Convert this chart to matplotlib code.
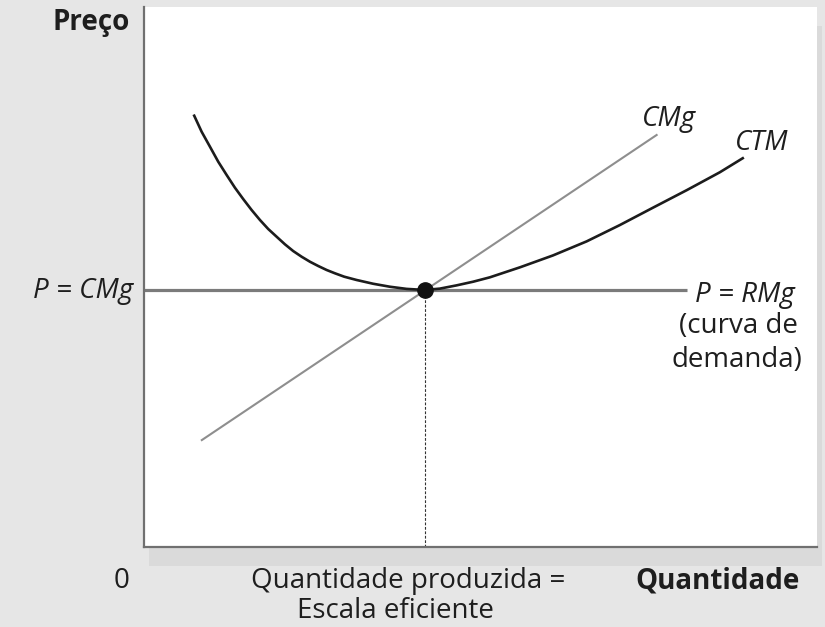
import matplotlib
matplotlib.use('Agg')
import matplotlib.pyplot as plt
from matplotlib.patches import Rectangle

plt.rcParams['font.family'] = ['Open Sans', 'DejaVu Sans']

# curva de custo total medio (CTM)
ctm_q = [7.47, 8.57, 9.81, 11.04, 12.29, 13.52, 14.75, 16.0, 17.24, 18.47, 19.72, 20.95,
         22.18, 23.43, 24.67, 25.9, 27.15, 28.38, 29.76, 31.6, 34.07, 36.55, 39.03, 41.75,
         43.98, 46.46, 48.93, 51.41, 55.9, 60.8, 65.8, 70.7, 75.6, 80.7, 85.6, 89.0]
ctm_p = [79.87, 76.91, 74.13, 71.35, 68.89, 66.54, 64.44, 62.41, 60.56, 58.89, 57.46, 56.06,
         54.81, 53.76, 52.83, 52.04, 51.30, 50.69, 50.06, 49.45, 48.75, 48.2, 47.8, 47.6,
         47.85, 48.45, 49.13, 49.94, 51.8, 54.0, 56.6, 59.6, 62.8, 66.1, 69.4, 72.0]

# custo marginal (reta)
cmg_q = [8.6, 76.2]
cmg_p = [19.8, 76.3]

# preco = receita marginal
preco = 47.6
rmg_q = [0, 80.7]
q_eficiente = 41.8

fig = plt.figure(figsize=(8.25, 6.27), dpi=100)
fig.patch.set_facecolor('#e6e6e6')
ax = fig.add_axes([0.1745, 0.1276, 0.8155, 0.8612])

# sombra leve do quadro
fig.patches.append(Rectangle((0.1745 + 0.006, 0.1276 - 0.03), 0.8155, 0.8612,
                             transform=fig.transFigure, facecolor='#dadada',
                             edgecolor='none', zorder=0))
ax.set_facecolor('white')
ax.set_zorder(1)

ax.plot(rmg_q, [preco, preco], color='#7b7b7b', lw=2.3, solid_capstyle='butt', zorder=2)
ax.plot(cmg_q, cmg_p, color='#8e8e8e', lw=1.5, zorder=3)
ax.plot(ctm_q, ctm_p, color='#1c1c1c', lw=1.9, zorder=4)
ax.plot([q_eficiente, q_eficiente], [0, preco], color='#333333', lw=0.8,
        ls=(0, (2.5, 1.5)), zorder=2)
ax.plot([q_eficiente], [preco], 'o', color='#111111', ms=11, zorder=5)

ax.set_xlim(0, 100)
ax.set_ylim(0, 100)
ax.set_xticks([])
ax.set_yticks([])
for s in ['top', 'right']:
    ax.spines[s].set_visible(False)
for s in ['left', 'bottom']:
    ax.spines[s].set_color('#707070')
    ax.spines[s].set_linewidth(1.6)

fs = 20
tc = '#1e1e1e'
ax.text(-2.1, 95.7, 'Preço', ha='right', va='baseline', fontsize=fs, fontweight='bold',
        color=tc, clip_on=False)
ax.text(-1.6, 46.1, 'P = CMg', ha='right', va='baseline', fontsize=fs, style='italic',
        color=tc, clip_on=False)
ax.text(78.0, 78.0, 'CMg', ha='center', va='baseline', fontsize=fs, style='italic', color=tc)
ax.text(91.8, 73.5, 'CTM', ha='center', va='baseline', fontsize=fs, style='italic', color=tc)
ax.text(81.9, 45.4, 'P = RMg', ha='left', va='baseline', fontsize=fs, style='italic', color=tc)
ax.text(88.3, 39.6, '(curva de', ha='center', va='baseline', fontsize=fs, color=tc)
ax.text(88.1, 33.3, 'demanda)', ha='center', va='baseline', fontsize=fs, color=tc)

ax.text(-3.3, -7.6, '0', ha='center', va='baseline', fontsize=fs, color=tc, clip_on=False)
ax.text(39.2, -7.6, 'Quantidade produzida =', ha='center', va='baseline', fontsize=fs,
        color=tc, clip_on=False)
ax.text(37.4, -13.2, 'Escala eficiente', ha='center', va='baseline', fontsize=fs,
        color=tc, clip_on=False)
ax.text(97.5, -7.6, 'Quantidade', ha='right', va='baseline', fontsize=fs, fontweight='bold',
        color=tc, clip_on=False)

fig.savefig('out.png', dpi=100, facecolor=fig.get_facecolor())
